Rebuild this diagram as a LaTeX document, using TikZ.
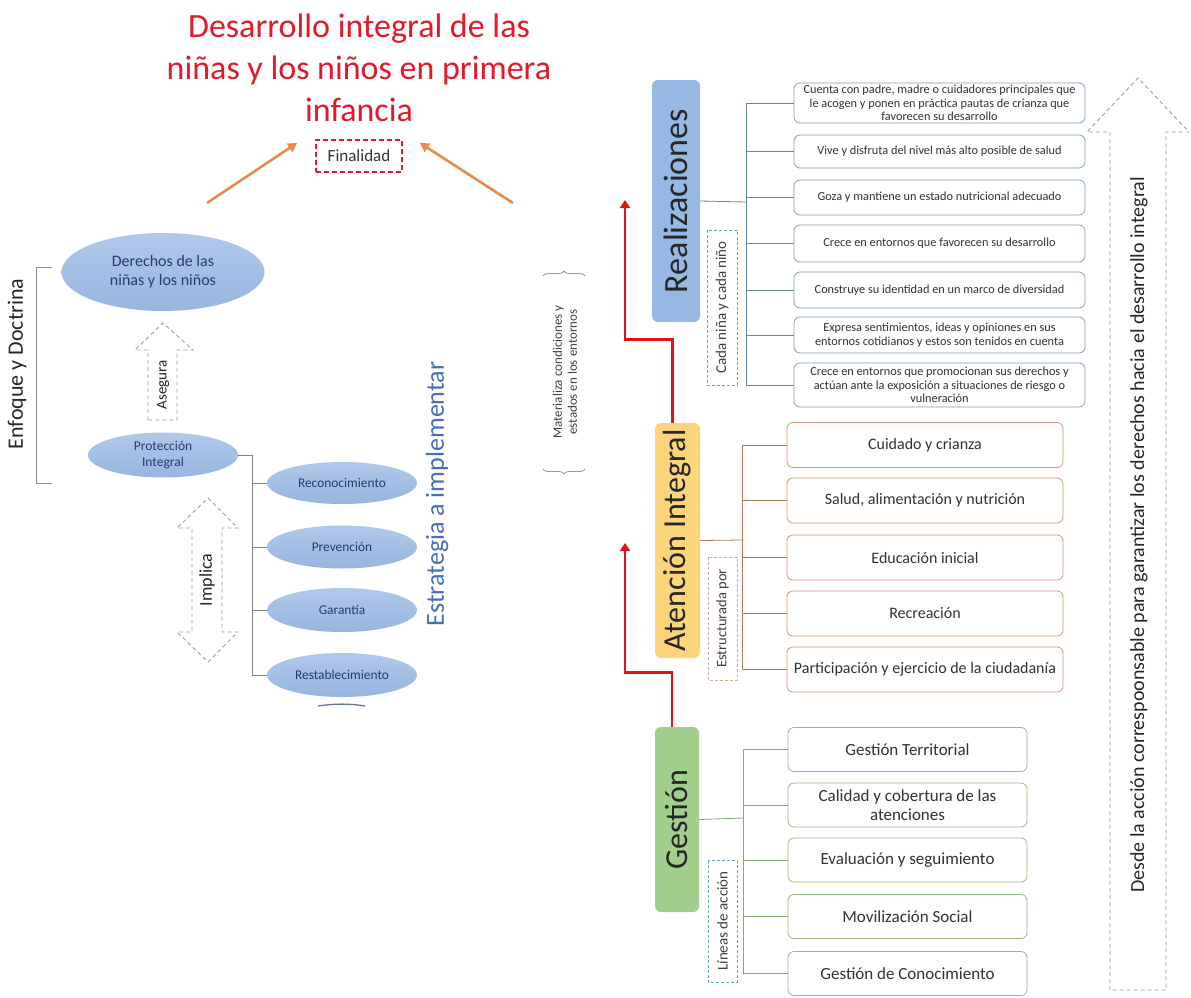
\documentclass[tikz,border=0pt]{standalone}
\usepackage{fontspec}
\setmainfont{Carlito}
\usepackage{tikz}
\usetikzlibrary{shapes.geometric,arrows.meta,decorations.pathreplacing}
\definecolor{titlered}{RGB}{225,25,40}
\definecolor{ovalblue}{RGB}{150,182,225}
\definecolor{ovaltext}{RGB}{38,58,108}
\definecolor{stratblue}{RGB}{70,110,185}
\definecolor{arroworange}{RGB}{234,138,72}
\definecolor{realline}{RGB}{95,135,165}
\definecolor{realedge}{RGB}{125,160,185}
\definecolor{realfill}{RGB}{150,185,228}
\definecolor{atenline}{RGB}{190,120,90}
\definecolor{atenedge}{RGB}{208,152,112}
\definecolor{atenfill}{RGB}{252,212,122}
\definecolor{gestline}{RGB}{130,170,110}
\definecolor{gestedge}{RGB}{150,185,130}
\definecolor{gestfill}{RGB}{162,206,142}
\definecolor{dashteal}{RGB}{95,170,190}
\definecolor{tagorange}{RGB}{205,175,150}
\definecolor{hollowgray}{RGB}{150,160,175}
\definecolor{arrowred}{RGB}{222,20,25}
\definecolor{textgray}{RGB}{50,50,50}

\tikzset{
    oval/.style={ellipse, top color=ovalblue!75!white, bottom color=ovalblue, text=ovaltext, inner sep=0pt, align=center},
    itembox/.style={draw, rounded corners=6pt, fill=white, align=center, text=textgray, inner sep=0pt, line width=0.8pt},
    pillar/.style={rotate=90, rounded corners=6pt, inner sep=0pt, text=black!85},
    tagbox/.style={draw, dash pattern=on 3pt off 2pt, rotate=90, inner sep=0pt, text=black!75, line width=0.8pt},
    hollow/.style={draw=hollowgray, dash pattern=on 4pt off 3pt, line width=0.9pt},
    branch/.style={line width=0.8pt},
    redpath/.style={draw=arrowred, line width=2.8pt, -{Triangle[width=10pt,length=8pt]}},
    orangearrow/.style={draw=arroworange, line width=2.6pt, -{Triangle[width=10pt,length=9pt]}},
}

\begin{document}
\begin{tikzpicture}[x=1pt, y=-1pt]
    \path[fill=white, use as bounding box] (0,0) rectangle (1191,998);

    \node[font=\fontsize{34}{42}\selectfont, text=titlered, align=center] (titulo) at (359,68) {Desarrollo integral de las\\niñas y los niños en primera\\infancia};
    \node[draw=titlered, dash pattern=on 5pt off 3pt, line width=1.8pt, minimum width=86pt, minimum height=32pt, font=\fontsize{17}{20}\selectfont, text=black!80] (finalidad) at (359,156) {Finalidad};
    \coordinate (ofromL) at (207,203);
    \coordinate (otoL) at (297,143);
    \coordinate (ofromR) at (513,203);
    \coordinate (otoR) at (420,143);
    \draw[orangearrow] (ofromL) -- (otoL);
    \draw[orangearrow] (ofromR) -- (otoR);

    \draw[draw=black!45, line width=0.8pt] (52,267) -- (36,267) -- (36,483) -- (52,483);
    \node[rotate=90, font=\fontsize{22}{24}\selectfont, text=black!85] (enfoque) at (17,364) {Enfoque y Doctrina};

    \node[oval, minimum width=203pt, minimum height=78pt, font=\fontsize{16}{19}\selectfont] (derechos) at (163,272) {Derechos de las\\niñas y los niños};
    \draw[hollow] (148,420) -- (148,350) -- (135,350) -- (163,323) -- (193,350) -- (177,350) -- (177,420) -- cycle;
    \node[rotate=90, font=\fontsize{15}{17}\selectfont, text=black!85] (asegura) at (163,385) {Asegura};
    \node[oval, minimum width=150pt, minimum height=45pt, font=\fontsize{13.5}{15.5}\selectfont] (proteccion) at (163,455) {Protección\\Integral};

    \node[oval, minimum width=150pt, minimum height=42pt, font=\fontsize{13.4}{16}\selectfont] (reconocimiento) at (342,483) {Reconocimiento};
    \node[oval, minimum width=150pt, minimum height=43pt, font=\fontsize{13.4}{16}\selectfont] (prevencion) at (342,547) {Prevención};
    \node[oval, minimum width=150pt, minimum height=44pt, font=\fontsize{13.4}{16}\selectfont] (garantia) at (342,610) {Garantía};
    \node[oval, minimum width=150pt, minimum height=44pt, font=\fontsize{13.4}{16}\selectfont] (restablecimiento) at (342,675) {Restablecimiento};
    \draw[ovaltext!70, line width=1.3pt] (318,706) .. controls (335,703.5) and (350,703.5) .. (365,706);
    \coordinate (ptrunk) at (252,455);
    \draw[branch, black!50] (proteccion.east) -- (ptrunk) |- (restablecimiento.west);
    \foreach \n in {reconocimiento,prevencion,garantia}
        \draw[branch, black!50] (ptrunk |- \n.west) -- (\n.west);

    \draw[hollow] (208,498) -- (238,528) -- (222,528) -- (222,632) -- (238,632) -- (208,662) -- (177,632) -- (192,632) -- (192,528) -- (177,528) -- cycle;
    \node[rotate=90, font=\fontsize{18}{20}\selectfont, text=black!85] (implica) at (207,580) {Implica};
    \node[rotate=90, font=\fontsize{26}{28}\selectfont, text=stratblue] (estrategia) at (437,494) {Estrategia a implementar};

    \draw[draw=black!40, line width=0.8pt, decorate, decoration={brace, amplitude=5pt}] (543,276) -- (585,276);
    \draw[draw=black!40, line width=0.8pt, decorate, decoration={brace, amplitude=5pt}] (585,469) -- (543,469);
    \node[rotate=90, align=center, font=\fontsize{13}{15}\selectfont, text=black!75] (materializa) at (565,372) {Materializa condiciones y\\estados en los entornos};

    \node[pillar, fill=realfill, minimum width=242pt, minimum height=48pt, font=\fontsize{34}{36}\selectfont] (realizaciones) at (676,201) {Realizaciones};
    \node[pillar, fill=atenfill, minimum width=235pt, minimum height=45pt, font=\fontsize{32}{34}\selectfont] (atencion) at (677.5,540.5) {Atención Integral};
    \node[pillar, fill=gestfill, minimum width=185pt, minimum height=44pt, font=\fontsize{32}{34}\selectfont] (gestion) at (677,819.5) {Gestión};

    \node[tagbox, draw=dashteal, minimum width=155pt, minimum height=30pt, font=\fontsize{15}{17}\selectfont] (cada) at (722,307.5) {Cada niña y cada niño};
    \node[tagbox, draw=tagorange, minimum width=123pt, minimum height=29pt, font=\fontsize{14.5}{16}\selectfont] (estructurada) at (722.5,618.5) {Estructurada por};
    \node[tagbox, draw=dashteal, minimum width=122pt, minimum height=29pt, font=\fontsize{15}{17}\selectfont] (lineas) at (722.5,921) {Líneas de acción};

    \coordinate (rtipA) at (625,543);
    \coordinate (rtipB) at (625,200);
    \draw[redpath] ([xshift=-5pt]gestion.east) -- ++(0,-54) -| (rtipA);
    \draw[redpath] ([xshift=-5pt]atencion.east) -- ++(0,-83) -| (rtipB);

    \begin{scope}[every node/.style={itembox, draw=realedge, minimum width=291pt, font=\fontsize{12.3}{13.5}\selectfont}]
        \node[minimum height=40pt] (real1) at (939.5,103) {Cuenta con padre, madre o cuidadores principales que\\le acogen y ponen en práctica pautas de crianza que\\favorecen su desarrollo};
        \node[minimum height=33pt] (real2) at (939.5,151.5) {Vive y disfruta del nivel más alto posible de salud};
        \node[minimum height=35pt] (real3) at (939.5,197.5) {Goza y mantiene un estado nutricional adecuado};
        \node[minimum height=37pt] (real4) at (939.5,243.5) {Crece en entornos que favorecen su desarrollo};
        \node[minimum height=36pt] (real5) at (939.5,290) {Construye su identidad en un marco de diversidad};
        \node[minimum height=36pt] (real6) at (939.5,335) {Expresa sentimientos, ideas y opiniones en sus\\entornos cotidianos y estos son tenidos en cuenta};
        \node[minimum height=44pt] (real7) at (939.5,385) {Crece en entornos que promocionan sus derechos y\\actúan ante la exposición a situaciones de riesgo o\\vulneración};
    \end{scope}
    \coordinate (rtrunk) at (746,202);
    \draw[branch, realline] (realizaciones.south) -- (rtrunk);
    \draw[branch, realline] (rtrunk |- real1.west) -- (rtrunk |- real7.west);
    \foreach \n in {1,...,7}
        \draw[branch, realline] (rtrunk |- real\n.west) -- (real\n.west);

    \begin{scope}[every node/.style={itembox, draw=atenedge, minimum width=276pt, minimum height=45pt, font=\fontsize{16}{19}\selectfont}]
        \node (aten1) at (925,445) {Cuidado y crianza};
        \node (aten2) at (925,500.5) {Salud, alimentación y nutrición};
        \node (aten3) at (925,557.5) {Educación inicial};
        \node (aten4) at (925,613.5) {Recreación};
        \node (aten5) at (925,669.5) {Participación y ejercicio de la ciudadanía};
    \end{scope}
    \coordinate (atrunk) at (742,540);
    \draw[branch, atenline] (atencion.south) -- (atrunk);
    \draw[branch, atenline] (atrunk |- aten1.west) -- (atrunk |- aten5.west);
    \foreach \n in {1,...,5}
        \draw[branch, atenline] (atrunk |- aten\n.west) -- (aten\n.west);

    \begin{scope}[every node/.style={itembox, draw=gestedge, minimum width=239pt, minimum height=44pt, font=\fontsize{17}{19}\selectfont}]
        \node (gest1) at (907.5,749.5) {Gestión Territorial};
        \node (gest2) at (907.5,805) {Calidad y cobertura de las\\atenciones};
        \node (gest3) at (907.5,860) {Evaluación y seguimiento};
        \node (gest4) at (907.5,916.5) {Movilización Social};
        \node (gest5) at (907.5,973.5) {Gestión de Conocimiento};
    \end{scope}
    \coordinate (gtrunk) at (743,818);
    \draw[branch, gestline] (gestion.south) -- (gtrunk);
    \draw[branch, gestline] (gtrunk |- gest1.west) -- (gtrunk |- gest5.west);
    \foreach \n in {1,...,5}
        \draw[branch, gestline] (gtrunk |- gest\n.west) -- (gest\n.west);

    \draw[hollow] (1110,990) -- (1110,132) -- (1087,132) -- (1138,78) -- (1189,132) -- (1166,132) -- (1166,990) -- cycle;
    \node[rotate=90, font=\fontsize{20}{22}\selectfont, text=black!85] (desde) at (1139,535) {Desde la acción correspoonsable para garantizar los derechos hacia el desarrollo integral};
\end{tikzpicture}
\end{document}
